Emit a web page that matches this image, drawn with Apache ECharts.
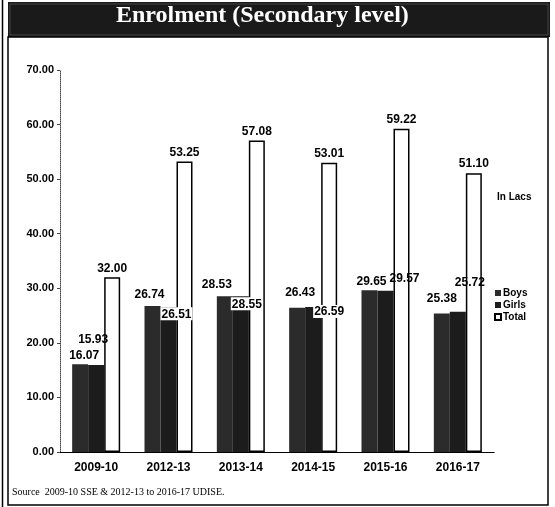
<!DOCTYPE html>
<html>
<head>
<meta charset="utf-8">
<script src="https://cdn.jsdelivr.net/npm/echarts@6/dist/echarts.min.js"></script>
<style>
html,body{margin:0;padding:0;background:#fff;}
#chart{width:555px;height:507px;}
</style>
</head>
<body>
<div id="chart"></div>
<script>
// ---- data ----
const categories = ['2009-10', '2012-13', '2013-14', '2014-15', '2015-16', '2016-17'];
const boys  = [16.07, 26.74, 28.53, 26.43, 29.65, 25.38];
const girls = [15.93, 26.51, 28.55, 26.59, 29.57, 25.72];
const total = [32.00, 53.25, 57.08, 53.01, 59.22, 51.10];
const yTicks = [0, 10, 20, 30, 40, 50, 60, 70];

// ---- label styling (kept separate from data) ----
const boysLabelOffsets = [[4, 0], [-3, -2], [-8, -3], [3, -6], [2, 0], [0, -6]];
const girlsLabelStyles = [
  { position: 'top', offset: [-3, -16], box: false },
  { position: 'insideTop', offset: [8, -4], box: true },
  { position: 'insideTop', offset: [6, -3], box: true },
  { position: 'insideTop', offset: [16, -6], box: true },
  { position: 'top', offset: [19, -3], box: false },
  { position: 'top', offset: [12, -20], box: false }
];

const FONT = '"Liberation Sans", Arial, sans-serif';
const fmt = v => Number(v).toFixed(2);
const baseLabel = { show: true, fontFamily: FONT, fontWeight: 'bold', fontSize: 12, color: '#000', formatter: p => fmt(p.value) };

const chart = echarts.init(document.getElementById('chart'), null, { renderer: 'canvas' });

const option = {
  animation: false,
  backgroundColor: '#fff',
  grid: { left: 60, right: 61, top: 70, bottom: 55, containLabel: false },
  legend: {
    orient: 'vertical', left: 489, top: 283, itemGap: 2,
    itemWidth: 6, itemHeight: 6, icon: 'rect',
    textStyle: { fontFamily: FONT, fontWeight: 'bold', fontSize: 10, color: '#000', padding: [0, 0, 0, -3] },
    data: ['Boys', 'Girls', 'Total']
  },
  xAxis: {
    type: 'category', data: categories,
    axisLine: { lineStyle: { color: '#000', width: 1.2 } },
    axisTick: { show: false },
    axisLabel: { fontFamily: FONT, fontWeight: 'bold', fontSize: 12, color: '#000', margin: 10 }
  },
  yAxis: {
    type: 'value', min: yTicks[0], max: yTicks[yTicks.length - 1], interval: 10,
    axisLine: { show: true, lineStyle: { color: '#444', width: 1, type: 'dotted' } },
    axisTick: { show: true, length: 3, lineStyle: { color: '#444' } },
    splitLine: { show: false },
    axisLabel: { fontFamily: FONT, fontWeight: 'bold', fontSize: 11, color: '#000', margin: 6, formatter: v => fmt(v) }
  },
  series: [
    {
      name: 'Boys', type: 'bar', barWidth: 16, barGap: '0%',
      itemStyle: { color: '#2b2b2b' },
      label: Object.assign({}, baseLabel, { position: 'top', distance: 3 }),
      data: boys.map((v, i) => ({ value: v, label: { offset: boysLabelOffsets[i] } }))
    },
    {
      name: 'Girls', type: 'bar', barWidth: 16, barGap: '0%',
      itemStyle: { color: '#1c1c1c' },
      label: Object.assign({}, baseLabel, { distance: 3 }),
      data: girls.map((v, i) => {
        const s = girlsLabelStyles[i];
        const lab = { position: s.position, offset: s.offset };
        if (s.box) { lab.backgroundColor = '#fff'; lab.padding = [1, 1, 0, 1]; lab.distance = 4; }
        return { value: v, label: lab };
      })
    },
    {
      name: 'Total', type: 'bar', barWidth: 16, barGap: '0%',
      itemStyle: { color: '#fff', borderColor: '#000', borderWidth: 1.5 },
      label: Object.assign({}, baseLabel, { position: 'top', distance: 3 }),
      data: total
    }
  ],
  graphic: [
    { type: 'rect', z: 0, shape: { x: 8, y: 2, width: 542, height: 35 }, style: { fill: '#1a1a1a' } },
    { type: 'rect', z: 1, shape: { x: 10, y: 4, width: 538, height: 31 }, style: { fill: 'none', stroke: '#444', lineWidth: 1 } },
    { type: 'text', z: 2, left: 116, top: 4,
      style: { text: 'Enrolment (Secondary level)', fill: '#fff', font: 'bold 24px "Liberation Serif", "DejaVu Serif", serif' } },
    { type: 'rect', z: 0, shape: { x: 8, y: 37, width: 540, height: 468 }, style: { fill: 'none', stroke: '#000', lineWidth: 1.5 } },
    { type: 'line', z: 0, shape: { x1: 2.5, y1: 0, x2: 2.5, y2: 507 }, style: { stroke: '#000', lineWidth: 1.5 } },
    { type: 'text', z: 2, left: 497, top: 192,
      style: { text: 'In Lacs', fill: '#000', font: 'bold 10px "Liberation Sans", Arial, sans-serif' } },
    { type: 'text', z: 2, left: 12, top: 487,
      style: { text: 'Source  2009-10 SSE & 2012-13 to 2016-17 UDISE.', fill: '#000', font: '10px "Liberation Serif", serif' } }
  ]
};
chart.setOption(option);
</script>
</body>
</html>
